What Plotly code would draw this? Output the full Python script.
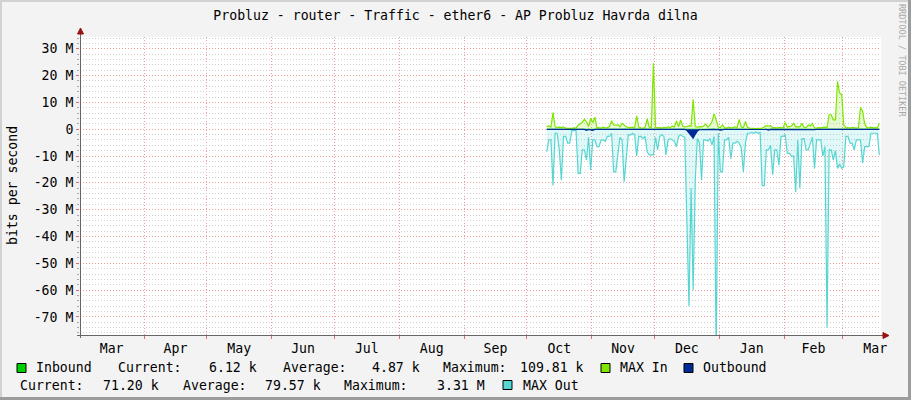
import plotly.graph_objects as go
import pandas as pd

# ---------------- data ----------------
START = "2018-10-10"          # first daily sample
X_START = "2018-03-01 09:00"
X_END = "2019-03-19 07:00"

month_labels = ["Mar", "Apr", "May", "Jun", "Jul", "Aug", "Sep",
                "Oct", "Nov", "Dec", "Jan", "Feb", "Mar"]

y_tick_vals = [30, 20, 10, 0, -10, -20, -30, -40, -50, -60, -70]
y_tick_text = ["30 M", "20 M", "10 M", "0", "-10 M", "-20 M", "-30 M",
               "-40 M", "-50 M", "-60 M", "-70 M"]

# MAX In (Mbit/s, daily)
max_in = [1.0, 1.2, 0.8, 6.2, 0.9, 0.7, 0.8, 0.6, 0.9, 0.4,
          0.3, 0.2, 0.3, 0.5, 0.4, 1.5, 2.2, 2.6, 3.7, 2.8,
          1.0, 4.1, 2.5, 4.5, 0.5, 0.6, 0.4, 0.8, 0.5, 0.6,
          1.0, 3.2, 1.6, 1.5, 1.7, 0.9, 2.2, 1.4, 0.9, 0.7,
          0.6, 0.8, 0.5, 5.0, 0.7, 0.5, 0.4, 0.6, 3.9, 0.8,
          0.6, 24.7, 0.8, 0.5, 0.6, 0.4, 0.7, 0.5, 0.9, 0.6,
          1.2, 0.8, 3.1, 1.0, 3.5, 1.2, 0.9, 1.0, 1.3, 1.1,
          11.2, 1.0, 0.8, 1.0, 0.9, 1.2, 1.9, 0.8, 1.5, 2.9,
          5.7, 3.5, 0.8, 0.6, 1.6, 0.6, 0.4, 0.8, 0.5, 0.6,
          0.9, 0.5, 3.7, 0.8, 0.6, 2.9, 0.7, 0.4, 0.3, 0.3,
          0.2, 0.3, 0.2, 0.4, 1.0, 1.3, 1.2, 1.3, 0.5, 0.6,
          0.4, 0.7, 0.5, 0.6, 2.5, 0.8, 1.0, 1.2, 2.2, 0.9,
          1.0, 0.8, 2.2, 0.7, 0.6, 1.6, 1.2, 2.2, 0.5, 0.4,
          0.6, 0.5, 0.7, 0.8, 0.6, 5.4, 5.4, 3.5, 3.5, 17.9,
          13.5, 13.0, 1.6, 0.5, 0.6, 0.4, 0.7, 0.5, 0.4, 0.6,
          8.2, 6.6, 2.0, 0.6, 0.5, 0.8, 0.5, 0.6, 0.5, 2.2]

# MAX Out (Mbit/s, daily, drawn negative)
max_out = [-8.4, -4.0, -4.0, -21, -1.5, -1.5, -7.7, -19, -2.7, -2.7,
           -5.2, -5.2, -0.5, -0.6, -0.5, -16.5, -16.5, -7.7, -7.7, -11.5,
           -3.0, -15.2, -4, -4, -6.5, -6.5, -4, -4, -4.5, -2.7,
           -2.7, -1.5, -15.9, -15.9, -10, -3, -4, -19.6, -11, -2,
           -2.2, -1.5, -2, -10, -2.7, -2.7, -3.5, -2.7, -8.4, -9.6,
           -9.6, -9.6, -3, -7.7, -2.7, -2.0, -2.7, -9.6, -4, -3.5,
           -4, -4.5, -6.5, -2.7, -2.0, -2.7, -3.0, -32, -66, -22,
           -60, -19, -3.5, -5, -19, -4, -4, -4.5, -3.5, -5.9,
           -2.7, -85, -1.5, -15.9, -15.9, -4, -4, -3, -11, -5.2,
           -5.2, -4.5, -5.2, -7, -15.9, -5, -1.5, -1.5, -1.2, -1.5,
           -1.0, -1.5, -1.2, -21, -21, -7.7, -7.7, -6, -17, -7.7,
           -7.7, -13.4, -2.7, -2.7, -2.0, -9, -9, -10, -10, -23.4,
           -4, -22, -3.5, -3.5, -7.7, -7.7, -5, -3, -14.6, -4,
           -4, -4, -10, -6.5, -74, -7.7, -7.7, -11.5, -8, -14.6,
           -13, -14.6, -14.0, -2.7, -2.7, -5.2, -5.2, -7.7, -4, -4,
           -4, -12.7, -6.5, -6.5, -6.5, -1.5, -1.5, -1.5, -1.5, -9.6]

# Inbound average (kbit/s, daily)
inbound_k = [4.2, 6.1, 3.5, 8.7, 5.3, 4.1, 3.2, 5.6, 6.4, 4.0,
             2.8, 3.1, 2.5, 3.9, 4.4, 5.8, 7.2, 6.5, 9.1, 6.0,
             4.5, 8.2, 7.6, 5.1, 3.8, 4.2, 3.6, 4.9, 3.3, 4.1,
             5.2, 7.8, 4.6, 4.3, 5.0, 3.7, 5.5, 4.8, 3.9, 3.5,
             3.2, 3.8, 3.0, 9.5, 3.6, 3.1, 2.9, 3.4, 7.7, 4.0,
             3.5, 109.81, 4.2, 3.3, 3.6, 3.0, 3.9, 3.2, 4.5, 3.7,
             5.0, 4.1, 6.8, 4.6, 7.0, 5.2, 4.4, 4.8, 5.5, 5.1,
             22.4, 4.9, 4.3, 4.7, 4.5, 5.0, 6.2, 4.1, 5.3, 6.6,
             9.8, 7.1, 4.0, 3.6, 5.4, 3.5, 3.0, 4.2, 3.3, 3.6,
             4.4, 3.2, 7.3, 4.0, 3.5, 6.5, 3.8, 2.9, 2.6, 2.7,
             2.4, 2.6, 2.3, 2.9, 4.8, 5.3, 5.0, 5.4, 3.4, 3.7,
             3.0, 3.9, 3.3, 3.5, 6.0, 4.1, 4.6, 5.0, 6.3, 4.4,
             4.8, 4.0, 6.1, 3.8, 3.5, 5.2, 4.7, 6.0, 3.2, 3.0,
             3.6, 3.3, 3.9, 4.2, 3.7, 10.4, 9.6, 7.5, 7.2, 31.5,
             25.8, 24.0, 5.6, 3.3, 3.6, 3.0, 3.9, 3.4, 3.1, 3.6,
             15.2, 12.5, 5.9, 3.7, 3.4, 4.1, 3.5, 3.8, 3.3, 6.12]

# Outbound average (kbit/s, daily, drawn negative)
outbound_k = [-80, -75, -90, -70, -85, -95, -60, -110, -70, -80,
              -65, -75, -55, -60, -70, -120, -150, -90, -80, -400,
              -85, -300, -420, -90, -70, -80, -75, -65, -90, -80,
              -70, -60, -110, -130, -90, -80, -75, -100, -85, -70,
              -60, -65, -70, -90, -75, -80, -85, -70, -95, -110,
              -100, -120, -80, -90, -70, -65, -75, -95, -80, -70,
              -75, -80, -90, -70, -65, -80, -90, -400, -1500, -2600,
              -3310, -1900, -700, -200, -150, -90, -80, -85, -70, -90,
              -75, -120, -70, -350, -100, -80, -75, -90, -110, -85,
              -80, -70, -85, -90, -120, -80, -60, -55, -50, -60,
              -55, -60, -50, -90, -100, -80, -300, -85, -95, -80,
              -75, -90, -70, -65, -70, -80, -85, -90, -95, -100,
              -80, -85, -70, -75, -80, -70, -65, -350, -120, -80,
              -75, -70, -80, -85, -90, -80, -75, -80, -85, -95,
              -90, -85, -80, -70, -65, -75, -80, -70, -65, -70,
              -75, -80, -70, -65, -60, -70, -75, -80, -70, -71.2]

# legend texts: (text, anchor pixel x, row, align)
legend_items = [
    ("Inbound", 34, 1, "left"), ("Current:", 116, 1, "left"), ("6.12 k", 259, 1, "right"),
    ("Average:", 281, 1, "left"), ("4.87 k", 422, 1, "right"), ("Maximum:", 441, 1, "left"),
    ("109.81 k", 586, 1, "right"), ("MAX In", 618, 1, "left"), ("Outbound", 701, 1, "left"),
    ("Current:", 18, 2, "left"), ("71.20 k", 161, 2, "right"), ("Average:", 181, 2, "left"),
    ("79.57 k", 323, 2, "right"), ("Maximum:", 342, 2, "left"), ("3.31 M", 487, 2, "right"),
    ("MAX Out", 521, 2, "left"),
]

# ---------------- helpers ----------------
C_IN = "#00cf00"
C_MAXIN = "#7ee600"
C_OUT = "#002a97"
C_MAXOUT = "#55d6d3"
FONT = "DejaVu Sans Mono"
FS = 13.2

L, R, T, B = 80, 881, 37, 335
W, H = 911, 400
ROW_Y = {1: 368, 2: 385}


def px(x):
    return (x - L) / (R - L)


def py(y):
    return (B - y) / (B - T)


def series(vals):
    d = pd.date_range(START, periods=len(vals), freq="D") + pd.Timedelta(hours=12)
    return list(d), list(vals)


month_starts = pd.date_range("2018-03-01", periods=len(month_labels) + 1, freq="MS")
mid_month = [month_starts[i] + (month_starts[i + 1] - month_starts[i]) / 2
             for i in range(len(month_labels))]

fig = go.Figure()

xi, yi = series([v / 1000 for v in inbound_k])
fig.add_trace(go.Scatter(x=xi, y=yi, mode="lines", line=dict(color=C_IN, width=1),
                         fill="tozeroy", fillcolor=C_IN, hoverinfo="skip"))

xm, ym = series(max_in)
fig.add_trace(go.Scatter(x=xm, y=ym, mode="lines", line=dict(color=C_MAXIN, width=1.2),
                         fill="tozeroy", fillcolor="rgba(126,230,0,0.18)", hoverinfo="skip"))

xo, yo = series(max_out)
fig.add_trace(go.Scatter(x=xo, y=yo, mode="lines", line=dict(color=C_MAXOUT, width=1.2),
                         fill="tozeroy", fillcolor="rgba(85,214,211,0.18)", hoverinfo="skip"))

xb, yb = series([v / 1000 for v in outbound_k])
fig.add_trace(go.Scatter(x=xb, y=yb, mode="lines", line=dict(color=C_OUT, width=1.2),
                         fill="tozeroy", fillcolor=C_OUT, hoverinfo="skip"))

shapes = []
# frame
shapes.append(dict(type="line", xref="paper", yref="paper", x0=px(1), x1=px(1), y0=py(0), y1=py(400),
                   line=dict(color="#d2d2d2", width=2)))
shapes.append(dict(type="line", xref="paper", yref="paper", x0=px(0), x1=px(911), y0=py(1), y1=py(1),
                   line=dict(color="#d2d2d2", width=2)))
shapes.append(dict(type="line", xref="paper", yref="paper", x0=px(909.5), x1=px(909.5), y0=py(0), y1=py(400),
                   line=dict(color="#9c9c9c", width=3)))
shapes.append(dict(type="line", xref="paper", yref="paper", x0=px(0), x1=px(911), y0=py(398.5), y1=py(398.5),
                   line=dict(color="#9c9c9c", width=3)))
# axes
shapes.append(dict(type="line", xref="paper", yref="paper", x0=px(80.5), x1=px(80.5), y0=py(338), y1=py(33),
                   line=dict(color="#666666", width=1)))
shapes.append(dict(type="line", xref="paper", yref="paper", x0=px(77), x1=px(884), y0=py(335.5), y1=py(335.5),
                   line=dict(color="#666666", width=1)))
shapes.append(dict(type="path", xref="paper", yref="paper",
                   path=f"M {px(80.5)} {py(28)} L {px(77.5)} {py(34)} L {px(83.5)} {py(34)} Z",
                   fillcolor="#991111", line=dict(color="#991111", width=1)))
shapes.append(dict(type="path", xref="paper", yref="paper",
                   path=f"M {px(889)} {py(335.5)} L {px(883)} {py(332.5)} L {px(883)} {py(338.5)} Z",
                   fillcolor="#991111", line=dict(color="#991111", width=1)))

annotations = []
annotations.append(dict(xref="paper", yref="paper", x=px(12), y=py(186), text="bits per second",
                        textangle=-90, showarrow=False, xanchor="center", yanchor="middle",
                        font=dict(family=FONT, size=FS, color="#000")))
annotations.append(dict(xref="paper", yref="paper", x=px(902), y=py(60), text="RRDTOOL / TOBI OETIKER",
                        textangle=90, showarrow=False, xanchor="center", yanchor="middle",
                        font=dict(family=FONT, size=8.5, color="#a8a8a8")))


def nb(s):
    return s.replace(" ", "\u00a0")


for txt, ax, row, align in legend_items:
    annotations.append(dict(xref="paper", yref="paper", x=px(ax), y=py(ROW_Y[row]), text=nb(txt),
                            showarrow=False, xanchor=align, yanchor="middle",
                            font=dict(family=FONT, size=FS, color="#000")))

for bx, row, col in [(17, 1, C_IN), (601, 1, C_MAXIN), (684, 1, C_OUT), (503, 2, C_MAXOUT)]:
    byy = ROW_Y[row]
    shapes.append(dict(type="rect", xref="paper", yref="paper", x0=px(bx), x1=px(bx + 9),
                       y0=py(byy - 4.5), y1=py(byy + 4.5), fillcolor=col,
                       line=dict(color="#000", width=1)))

fig.update_layout(
    width=W, height=H, autosize=False,
    margin=dict(l=L, r=W - R, t=T, b=H - B, pad=0),
    paper_bgcolor="#f3f3f3", plot_bgcolor="#ffffff",
    showlegend=False,
    font=dict(family=FONT, size=FS, color="#000"),
    title=dict(text="Probluz - router - Traffic - ether6 - AP Probluz Havrda dilna",
               x=0.5, xref="container", xanchor="center", y=1 - 15 / H, yref="container",
               yanchor="middle", font=dict(family=FONT, size=FS, color="#000")),
    shapes=shapes, annotations=annotations,
    xaxis=dict(type="date", range=[X_START, X_END], showline=False, zeroline=False,
               tickmode="array", tickvals=mid_month, ticktext=month_labels,
               ticks="", showgrid=False, ticklabelstandoff=4,
               tickfont=dict(family=FONT, size=FS, color="#000"),
               minor=dict(tickmode="linear", tick0="2018-03-01", dtick="M1", showgrid=True,
                          gridcolor="#f09a9a", griddash="1px,2px", gridwidth=1,
                          ticks="outside", ticklen=3, tickcolor="#e07070")),
    yaxis=dict(range=[-76.75, 34.4], showline=False, zeroline=False,
               tickmode="array", tickvals=y_tick_vals, ticktext=y_tick_text,
               showgrid=True, gridcolor="#f09a9a", griddash="1px,2px", gridwidth=1,
               ticks="outside", ticklen=3, tickcolor="#e07070",
               tickfont=dict(family=FONT, size=FS, color="#000"),
               minor=dict(tickmode="linear", tick0=0, dtick=2, showgrid=True,
                          gridcolor="#cfcfcf", griddash="1px,2px", gridwidth=1,
                          ticks="outside", ticklen=2, tickcolor="#aaaaaa")),
)

fig.write_html("out.html", config={"displayModeBar": False, "staticPlot": True},
               post_script="document.body.style.margin='0';document.body.style.padding='0';")
